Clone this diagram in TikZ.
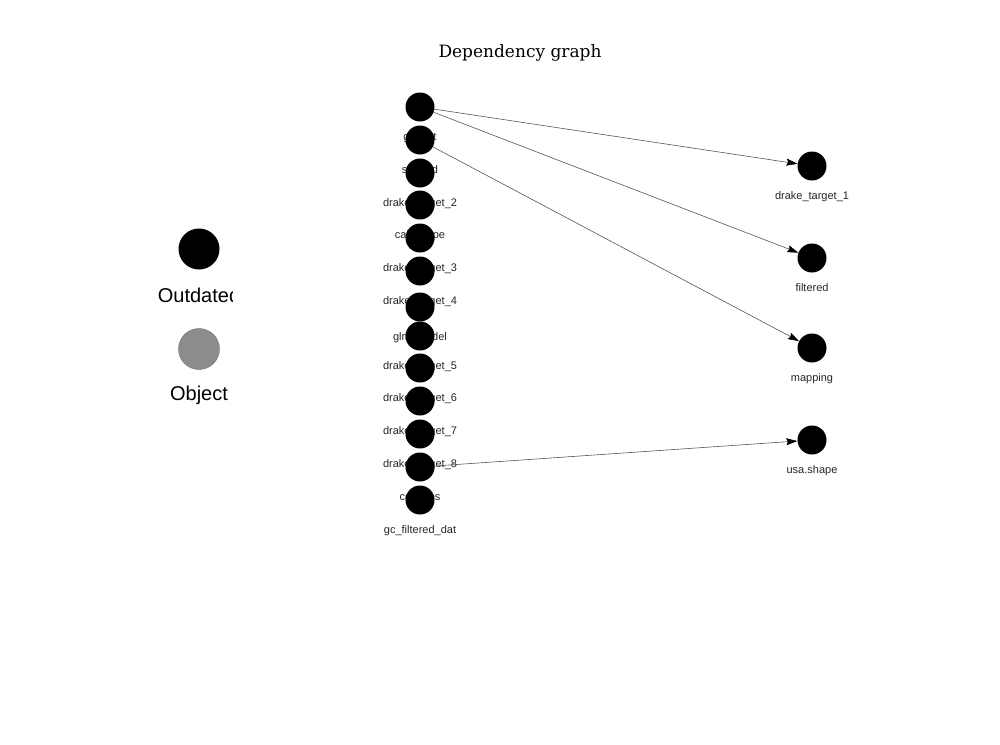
\documentclass[tikz,border=0pt]{standalone}
\usepackage{fontspec}
\setmainfont{Liberation Sans}
\newfontfamily\titlefont{DejaVu Serif}
\usetikzlibrary{arrows.meta}
\definecolor{objgray}{HTML}{8C8C8C}
\definecolor{objdraw}{HTML}{707070}
\definecolor{edgegray}{HTML}{555555}
\begin{document}
\begin{tikzpicture}[x=1pt, y=-1pt, -{Stealth[length=11pt,width=7pt,inset=1.5pt,color=black]}]
        \tikzstyle{vertex} = [circle, fill=black, minimum size=29pt, inner sep=0pt]
        \tikzstyle{vname} = [anchor=base, font=\fontsize{11}{13}\selectfont, text=black!85, inner sep=0pt]
        \tikzstyle{legdot} = [circle, minimum size=41pt, inner sep=0pt]
        \tikzstyle{legtext} = [font=\fontsize{20}{24}\selectfont, inner sep=0pt]
        \tikzstyle{dep} = [draw=edgegray, line width=0.6pt]
        \useasboundingbox (0,0) rectangle (1000,744);
        \node[font=\titlefont\fontsize{17}{20}\selectfont] (title) at (520,52.5) {Dependency graph};

        \begin{scope}
        \clip (0,0) rectangle (232,744);
        \node[legdot, fill=black] (outdated) at (199,249) {};
        \node[legtext] (outdated-lbl) at (199,295) {Outdated};
        \node[legdot, fill=objgray, draw=objdraw] (object) at (199,349) {};
        \node[legtext] (object-lbl) at (199,395) {Object};
        \end{scope}

        \foreach \n/\y/\t in {gcdat/107/gc\_dat, shaped/140/shaped, target2/173/drake\_target\_2,
                calshape/205/cal\_shape, target3/238/drake\_target\_3, target4/271/drake\_target\_4,
                glmmodel/307/glm\_model, target5/336/drake\_target\_5, target6/368/drake\_target\_6,
                target7/401/drake\_target\_7, target8/434/drake\_target\_8, counties/467/counties,
                gcfiltered/500/gc\_filtered\_dat}{
                \node[vertex] (\n) at (420,\y) {};
                \node[vname] (\n-lbl) at ([yshift=-33pt]\n.center) {\t};
        }
        \foreach \n/\y/\t in {target1/166/drake\_target\_1, filtered/258/filtered,
                mapping/348/mapping, usashape/440/usa.shape}{
                \node[vertex] (\n) at (812,\y) {};
                \node[vname] (\n-lbl) at ([yshift=-33pt]\n.center) {\t};
        }
        \path
                (gcdat) edge[dep] (target1)
                (gcdat) edge[dep] (filtered)
                (shaped) edge[dep] (mapping)
                (counties) edge[dep] (usashape);
\end{tikzpicture}
\end{document}
